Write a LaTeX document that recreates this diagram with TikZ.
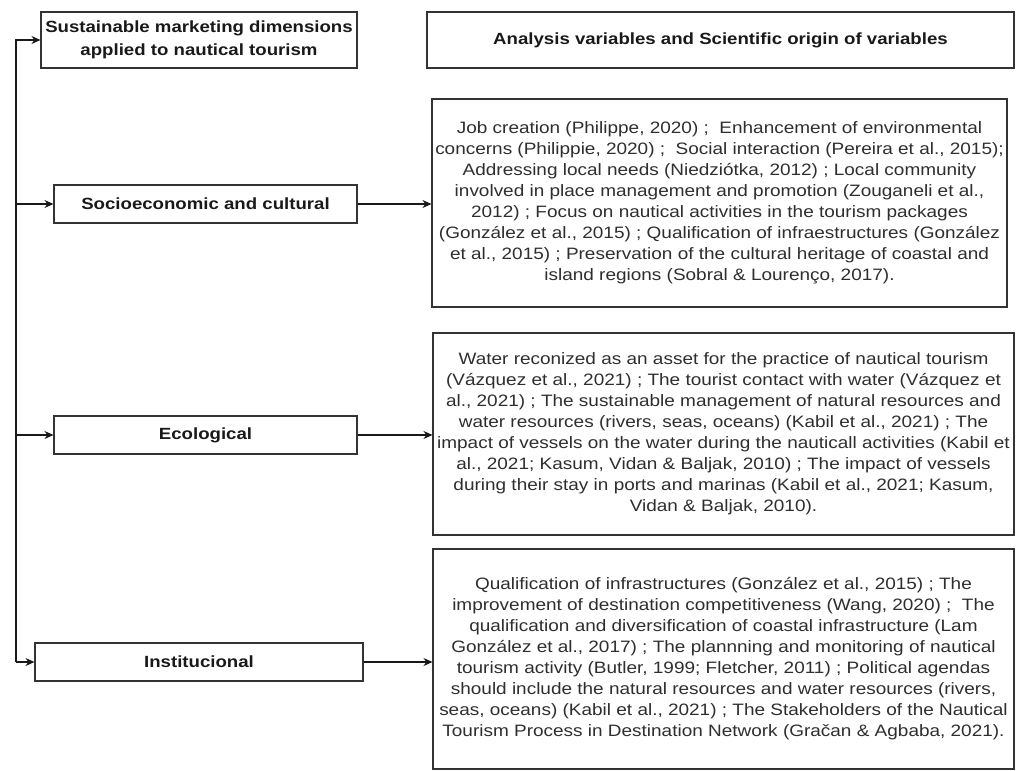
\documentclass[tikz,border=0pt]{standalone}
\usepackage{fontspec}
\setmainfont{Liberation Sans}[FakeStretch=1.15]
\usetikzlibrary{arrows.meta}
\tikzset{
  box/.style={draw=black!80, line width=1.1pt, inner sep=0pt, align=center, anchor=center},
  lbl/.style={box, font=\fontsize{16.2}{22.5}\selectfont\bfseries, text=black!90},
  txt/.style={box, font=\fontsize{16.5}{21}\selectfont, text=black!82},
  arr/.style={draw=black!90, line width=1.1pt, -{Stealth[length=9pt,width=8pt]}}
}
\begin{document}
\begin{tikzpicture}[x=1pt,y=-1pt]
\useasboundingbox (0,0) rectangle (1020,771);
\node[lbl, minimum width=316pt, minimum height=56pt] (top) at (199,40) {Sustainable marketing dimensions\\applied to nautical tourism};
\node[lbl, minimum width=587pt, minimum height=56pt] (head) at (720.5,40) {Analysis variables and Scientific origin of variables};
\node[lbl, minimum width=303pt, minimum height=38pt] (soc) at (205.5,204) {Socioeconomic and cultural};
\node[lbl, minimum width=303pt, minimum height=38pt] (eco) at (205.5,435) {Ecological};
\node[lbl, minimum width=328pt, minimum height=38pt] (inst) at (199,662) {Institucional};
\node[txt, minimum width=575pt, minimum height=208pt] (soct) at (719.5,203) {Job creation (Philippe, 2020) ;\ \ Enhancement of environmental\\concerns (Philippie, 2020) ;\ \ Social interaction (Pereira et al., 2015);\\Addressing local needs (Niedziótka, 2012) ; Local community\\involved in place management and promotion (Zouganeli et al.,\\2012) ; Focus on nautical activities in the tourism packages\\(González et al., 2015) ; Qualification of infraestructures (González\\et al., 2015) ; Preservation of the cultural heritage of coastal and\\island regions (Sobral \& Lourenço, 2017).};
\node[txt, minimum width=581pt, minimum height=202pt] (ecot) at (723.5,434) {Water reconized as an asset for the practice of nautical tourism\\(Vázquez et al., 2021) ; The tourist contact with water (Vázquez et\\al., 2021) ; The sustainable management of natural resources and\\water resources (rivers, seas, oceans) (Kabil et al., 2021) ; The\\impact of vessels on the water during the nauticall activities (Kabil et\\al., 2021; Kasum, Vidan \& Baljak, 2010) ; The impact of vessels\\during their stay in ports and marinas (Kabil et al., 2021; Kasum,\\Vidan \& Baljak, 2010).};
\node[txt, minimum width=581pt, minimum height=220pt] (instt) at (723.5,659) {Qualification of infrastructures (González et al., 2015) ; The\\improvement of destination competitiveness (Wang, 2020) ;\ \ The\\qualification and diversification of coastal infrastructure (Lam\\González et al., 2017) ; The plannning and monitoring of nautical\\tourism activity (Butler, 1999; Fletcher, 2011) ; Political agendas\\should include the natural resources and water resources (rivers,\\seas, oceans) (Kabil et al., 2021) ; The Stakeholders of the Nautical\\Tourism Process in Destination Network (Gračan \& Agbaba, 2021).};
\coordinate (tb) at (16,662);
\draw[arr] (tb) |- (top.west);
\draw[arr] (tb) -- (inst.west);
\draw[arr] (tb |- soc.west) -- (soc.west);
\draw[arr] (tb |- eco.west) -- (eco.west);
\draw[arr] (soc.east) -- (soct.west |- soc.east);
\draw[arr] (eco.east) -- (ecot.west |- eco.east);
\draw[arr] (inst.east) -- (instt.west |- inst.east);
\end{tikzpicture}
\end{document}
